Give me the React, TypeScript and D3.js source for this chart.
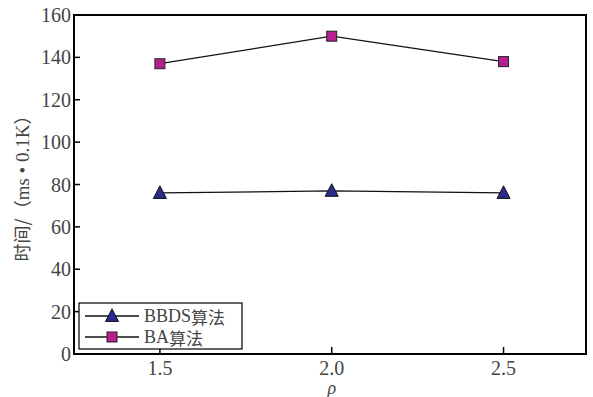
import * as d3 from "d3";
import React from "react";

// data
const rhoValues = [1.5, 2.0, 2.5];
const bbdsTimes = [76, 77, 76];
const baTimes = [137, 150, 138];
const xTicks = [1.5, 2.0, 2.5];
const yTicks = [0, 20, 40, 60, 80, 100, 120, 140, 160];
const seriesNames = ["BBDS算法", "BA算法"];

export default function App() {
  const W = 593;
  const H = 397;
  const m = { top: 15, right: 7, bottom: 43, left: 74 };

  const x = d3.scaleLinear().domain([1.25, 2.74]).range([m.left, W - m.right]);
  const y = d3.scaleLinear().domain([0, 160]).range([H - m.bottom, m.top]);

  const line = d3
    .line<number>()
    .x((_, i) => x(rhoValues[i]))
    .y((d) => y(d));

  const triColor = "#2b2a8c";
  const sqColor = "#b81f8e";
  const textColor = "#444";
  const serif = "'Liberation Serif', 'DejaVu Serif', 'Times New Roman', serif";
  const cjk = "'Noto Sans CJK SC', sans-serif";

  const tri = (cx: number, cy: number, s = 13) =>
    `M${cx},${cy - s * 0.55} L${cx + s / 2},${cy + s * 0.42} L${cx - s / 2},${cy + s * 0.42} Z`;

  const lg = { x: 79, y: 303, w: 163, h: 46 };
  const rowY = [316, 337];

  return (
    <svg
      width={W}
      height={H}
      style={{ position: "absolute", left: 0, top: 0, background: "#fff", fontFamily: serif }}
    >
      {/* frame */}
      <rect
        x={m.left}
        y={m.top}
        width={W - m.right - m.left}
        height={H - m.bottom - m.top}
        fill="none"
        stroke="#000"
        strokeWidth={2}
      />

      {/* y ticks */}
      {yTicks.map((t) => (
        <g key={t}>
          <line x1={m.left} x2={m.left + 6} y1={y(t)} y2={y(t)} stroke="#000" strokeWidth={1.5} />
          <text
            x={m.left - 3}
            y={y(t)}
            textAnchor="end"
            dominantBaseline="central"
            style={{ fontFamily: serif, fontSize: 20 }}
            fill={textColor}
          >
            {t}
          </text>
        </g>
      ))}

      {/* x ticks */}
      {xTicks.map((t) => (
        <g key={t}>
          <line
            x1={x(t)}
            x2={x(t)}
            y1={H - m.bottom}
            y2={H - m.bottom - 7}
            stroke="#000"
            strokeWidth={1.5}
          />
          <text
            x={x(t)}
            y={H - m.bottom + 21}
            textAnchor="middle"
            style={{ fontFamily: serif, fontSize: 20 }}
            fill={textColor}
          >
            {t.toFixed(1)}
          </text>
        </g>
      ))}

      {/* axis labels */}
      <text
        x={x(2.0)}
        y={394}
        textAnchor="middle"
        style={{ fontFamily: serif, fontSize: 18, fontStyle: "italic" }}
        fill={textColor}
      >
        ρ
      </text>
      <text
        transform={`translate(29,184) rotate(-90)`}
        textAnchor="middle"
        style={{ fontFamily: serif, fontSize: 19 }}
        fill={textColor}
      >
        <tspan style={{ fontFamily: cjk, fontSize: 18 }}>时间/（</tspan>
        <tspan>ms • 0.1K</tspan>
        <tspan style={{ fontFamily: cjk, fontSize: 18 }}>）</tspan>
      </text>

      {/* lines */}
      <path d={line(baTimes) ?? undefined} fill="none" stroke="#111" strokeWidth={1.3} />
      <path d={line(bbdsTimes) ?? undefined} fill="none" stroke="#111" strokeWidth={1.3} />

      {/* markers */}
      {baTimes.map((v, i) => (
        <rect
          key={`s${i}`}
          x={x(rhoValues[i]) - 5}
          y={y(v) - 5}
          width={10}
          height={10}
          fill={sqColor}
          stroke="#222"
          strokeWidth={1}
        />
      ))}
      {bbdsTimes.map((v, i) => (
        <path key={`t${i}`} d={tri(x(rhoValues[i]), y(v))} fill={triColor} stroke="#111" strokeWidth={1} />
      ))}

      {/* legend */}
      <rect x={lg.x} y={lg.y} width={lg.w} height={lg.h} fill="#fff" stroke="#000" strokeWidth={1.2} />
      {seriesNames.map((name, i) => (
        <g key={name}>
          <line x1={85} x2={139} y1={rowY[i]} y2={rowY[i]} stroke="#111" strokeWidth={1.3} />
          {i === 0 ? (
            <path d={tri(112, rowY[i])} fill={triColor} stroke="#111" strokeWidth={1} />
          ) : (
            <rect x={107} y={rowY[i] - 5} width={10} height={10} fill={sqColor} stroke="#222" strokeWidth={1} />
          )}
          <text
            x={144}
            y={rowY[i]}
            dominantBaseline="central"
            style={{ fontFamily: serif, fontSize: 18 }}
            fill={textColor}
          >
            {name.replace("算法", "")}
            <tspan style={{ fontFamily: cjk, fontSize: 17 }}>算法</tspan>
          </text>
        </g>
      ))}
    </svg>
  );
}
